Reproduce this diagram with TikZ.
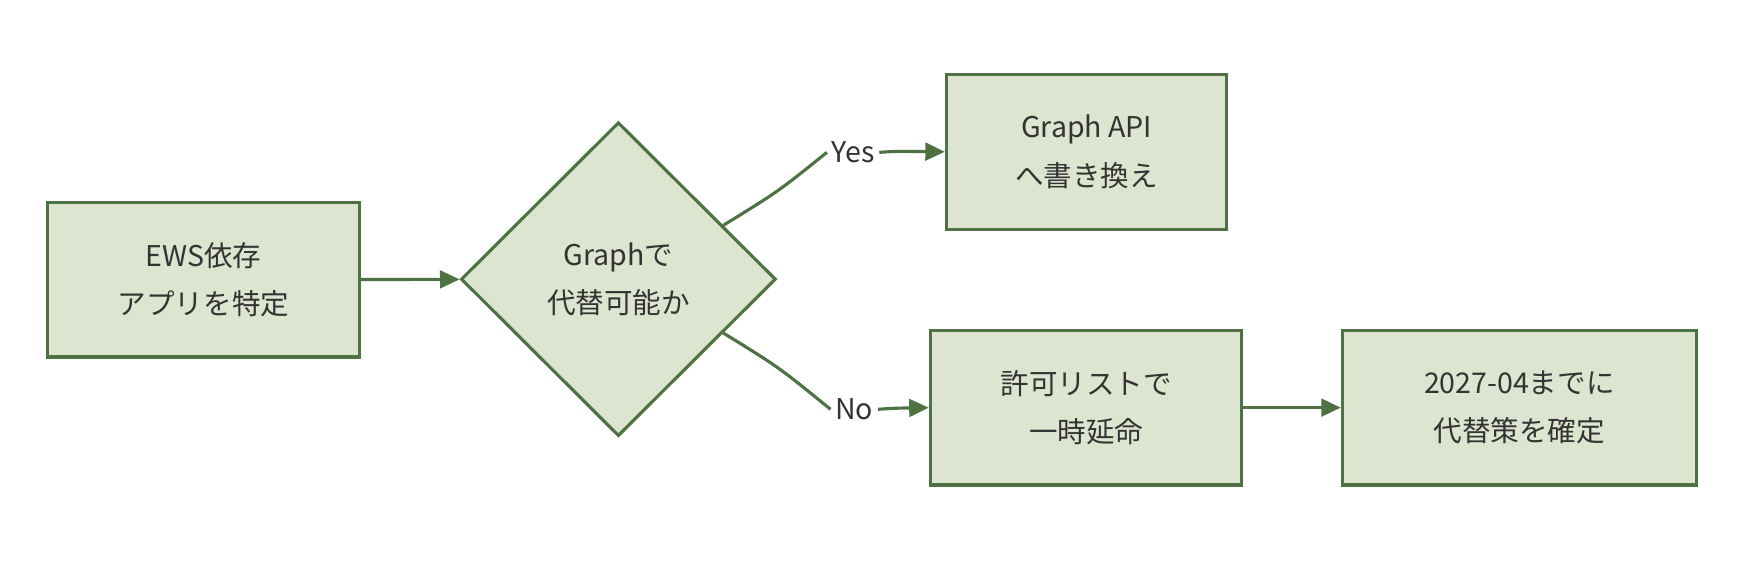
\documentclass[tikz,border=0pt]{standalone}
\usepackage{fontspec}
\setmainfont{Noto Sans CJK JP}
\usetikzlibrary{shapes.geometric,arrows.meta,calc}
\definecolor{boxfill}{HTML}{DDE5D0}
\definecolor{boxline}{HTML}{4F7245}
\definecolor{ink}{HTML}{333333}
\tikzset{
  task/.style={draw=boxline,fill=boxfill,thick,minimum width=2.8cm,minimum height=1.39cm,
    align=center,text=ink,font=\fontsize{7.3}{12.3}\selectfont},
  test/.style={diamond,draw=boxline,fill=boxfill,thick,minimum width=2.83cm,minimum height=2.82cm,
    inner sep=0pt,align=center,text=ink,font=\fontsize{7.3}{12.3}\selectfont},
  flow/.style={draw=boxline,thick,-{Triangle[length=5pt,width=4.5pt]}},
  tag/.style={fill=white,inner sep=1pt,text=ink,font=\fontsize{7.3}{12.3}\selectfont}
}
\begin{document}
\begin{tikzpicture}[x=0.01cm,y=-0.01cm]
  \useasboundingbox (0,0) rectangle (1568,507);
  \node[task] (find) at (183,251.5) {EWS依存\\アプリを特定};
  \node[test] (q) at (556,251) {Graphで\\代替可能か};
  \node[task,minimum width=2.52cm] (api) at (977,136.5) {Graph API\\へ書き換え};
  \node[task] (allow) at (976.5,366.5) {許可リストで\\一時延命};
  \node[task,minimum width=3.18cm] (fix) at (1366,366.5) {2027-04までに\\代替策を確定};
  \node[tag] (yes) at (767,137) {Yes};
  \node[tag] (no) at (768,368) {No};
  \draw[flow] (find) -- (q);
  \draw[thick,draw=boxline] ($(q.north)!0.66!(q.east)$) .. controls (700,172) .. (yes.west);
  \draw[flow] (yes.east) .. controls (805,136) .. (api.west);
  \draw[thick,draw=boxline] ($(q.south)!0.66!(q.east)$) .. controls (700,330) .. (no.west);
  \draw[flow] (no.east) .. controls (805,367) .. (allow.west);
  \draw[flow] (allow) -- (fix);
\end{tikzpicture}
\end{document}
